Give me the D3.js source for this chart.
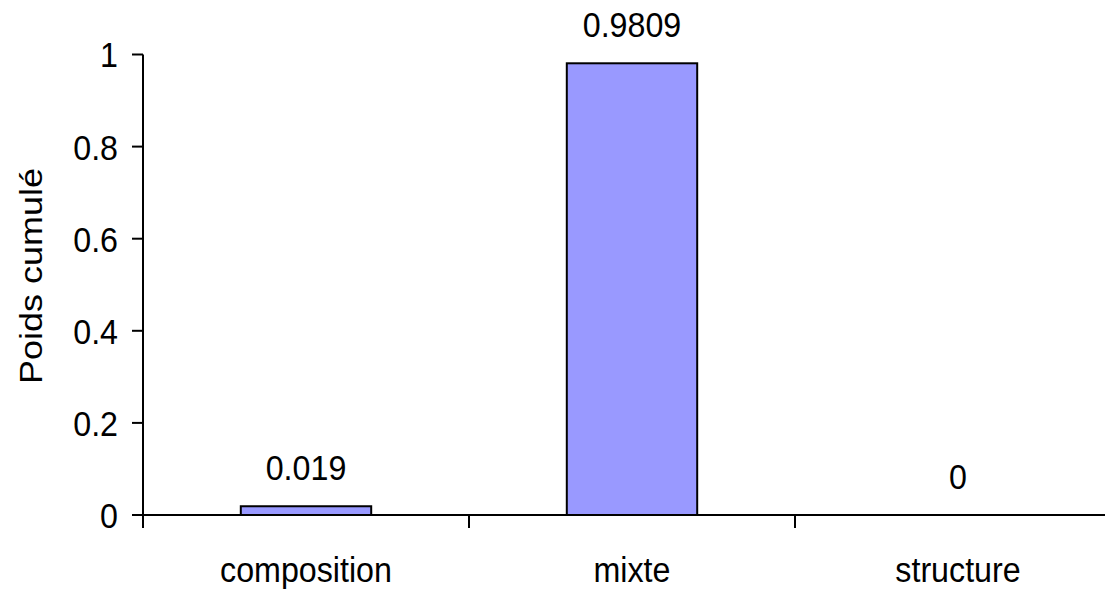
<!DOCTYPE html>
<html><head><meta charset="utf-8">
<script src="https://cdn.jsdelivr.net/npm/d3@7"></script>
<style>
html,body{margin:0;padding:0;background:#fff;}
svg{display:block;}
text{font-family:"Liberation Sans",Arial,sans-serif;fill:#000;}
</style></head>
<body><svg id="c" width="1105" height="593"></svg>
<script>
const categories = ["composition", "mixte", "structure"];
const values = [0.019, 0.9809, 0];
const valueLabels = ["0.019", "0.9809", "0"];
const yTicks = [0, 0.2, 0.4, 0.6, 0.8, 1];
const yTickLabels = ["0", "0.2", "0.4", "0.6", "0.8", "1"];
const yTitle = "Poids cumulé";

const svg = d3.select("#c");
const W = 1105, H = 593;
const left = 143, bandW = 326, y0 = 515, y1 = 54.5;
const FS = 36, SX = 0.895;

const x = d3.scaleBand().domain(categories).range([left, left + bandW * categories.length]).padding(0);
const y = d3.scaleLinear().domain([0, 1]).range([y0, y1]);

// bars
svg.selectAll("rect.bar").data(categories).enter().append("rect")
  .attr("class", "bar")
  .attr("x", (d) => x(d) + x.bandwidth() * 0.3)
  .attr("width", x.bandwidth() * 0.4)
  .attr("y", (d, i) => y(values[i]))
  .attr("height", (d, i) => y(0) - y(values[i]))
  .attr("fill", "#9999FF")
  .attr("stroke", (d, i) => values[i] > 0 ? "#000" : "none")
  .attr("stroke-width", 2);

// axes lines
svg.append("line").attr("x1", left).attr("x2", W).attr("y1", y(0)).attr("y2", y(0))
  .attr("stroke", "#000").attr("stroke-width", 2);
svg.append("line").attr("x1", left).attr("x2", left).attr("y1", y(1)).attr("y2", y(0))
  .attr("stroke", "#000").attr("stroke-width", 2);

// y ticks
svg.selectAll("line.yt").data(yTicks).enter().append("line")
  .attr("x1", left - 11).attr("x2", left)
  .attr("y1", (d) => y(d)).attr("y2", (d) => y(d))
  .attr("stroke", "#000").attr("stroke-width", 2);
svg.selectAll("text.yl").data(yTicks).enter().append("text")
  .attr("transform", (d) => `translate(${left - 25},${y(d)}) scale(${SX},1)`)
  .attr("text-anchor", "end").attr("dy", "0.36em")
  .attr("font-size", FS)
  .text((d, i) => yTickLabels[i]);

// x ticks at band boundaries
const bounds = categories.map((c) => x(c)).concat([x(categories[categories.length - 1]) + x.bandwidth()]);
svg.selectAll("line.xt").data(bounds).enter().append("line")
  .attr("x1", (d) => d).attr("x2", (d) => d)
  .attr("y1", y(0)).attr("y2", y(0) + 13)
  .attr("stroke", "#000").attr("stroke-width", 2);

// category labels
svg.selectAll("text.xl").data(categories).enter().append("text")
  .attr("transform", (d) => `translate(${x(d) + x.bandwidth() / 2},582) scale(${SX},1)`)
  .attr("text-anchor", "middle").attr("font-size", FS)
  .text((d) => d);

// value labels
svg.selectAll("text.vl").data(categories).enter().append("text")
  .attr("transform", (d, i) => `translate(${x(d) + x.bandwidth() / 2},${y(values[i]) - 26}) scale(${SX},1)`)
  .attr("text-anchor", "middle").attr("font-size", FS)
  .text((d, i) => valueLabels[i]);

// y title
svg.append("text")
  .attr("transform", `translate(42,276) scale(${SX},1) rotate(-90)`)
  .attr("text-anchor", "middle").attr("font-size", FS)
  .text(yTitle);
</script></body></html>
